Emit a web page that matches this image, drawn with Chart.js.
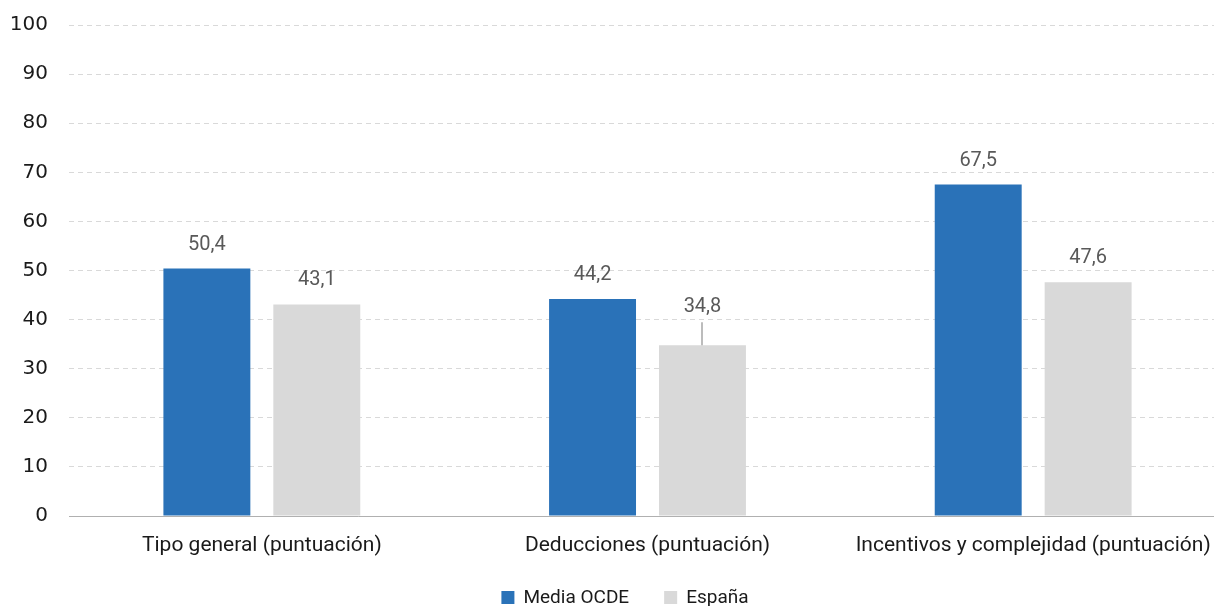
<!DOCTYPE html>
<html>
<head>
<meta charset="utf-8">
<script src="https://cdn.jsdelivr.net/npm/chart.js@4/dist/chart.umd.min.js"></script>
<style>
  html, body { margin: 0; padding: 0; background: #fff; overflow: hidden; }
  #frame { width: 1214px; height: 606px; overflow: hidden; position: relative; }
  #wrap { width: 1226px; height: 606px; position: relative; }
</style>
</head>
<body>
<div id="frame"><div id="wrap"><canvas id="c"></canvas></div></div>
<script>
const categories = ['Tipo general (puntuación)', 'Deducciones (puntuación)', 'Incentivos y complejidad (puntuación)'];
const mediaOCDE = [50.4, 44.2, 67.5];
const espana = [43.1, 34.8, 47.6];
const seriesNames = ['Media OCDE', 'España'];
const seriesColors = ['#2a72b8', '#d9d9d9'];

const fmt = v => v.toFixed(1).replace('.', ',');

// Value labels above each bar; the gray bar of the middle group gets a short leader line
const valueLabels = {
  id: 'valueLabels',
  afterDatasetsDraw(chart) {
    const ctx = chart.ctx;
    ctx.save();
    ctx.font = '20px Roboto';
    ctx.fillStyle = '#595959';
    ctx.textAlign = 'center';
    ctx.textBaseline = 'middle';
    chart.data.datasets.forEach((ds, di) => {
      const meta = chart.getDatasetMeta(di);
      meta.data.forEach((bar, i) => {
        const leader = di === 1 && i === 1;
        const y = leader ? bar.y - 38 : bar.y - 24;
        ctx.fillText(fmt(ds.data[i]), bar.x, y);
        if (leader) {
          ctx.strokeStyle = '#a6a6a6';
          ctx.lineWidth = 1.5;
          ctx.beginPath();
          ctx.moveTo(Math.round(bar.x), y + 15);
          ctx.lineTo(Math.round(bar.x), bar.y);
          ctx.stroke();
        }
      });
    });
    ctx.restore();
  }
};

// Legend row under the axis labels
const bottomLegend = {
  id: 'bottomLegend',
  afterDraw(chart) {
    const ctx = chart.ctx;
    ctx.save();
    ctx.font = '19px Roboto';
    ctx.textBaseline = 'middle';
    ctx.textAlign = 'left';
    const box = 13, gapText = 9, gapItem = 35;
    const widths = seriesNames.map(n => box + gapText + ctx.measureText(n).width);
    const total = widths.reduce((a, b) => a + b, 0) + gapItem * (seriesNames.length - 1);
    let x = chart.width / 2 + 12 - total / 2;
    const y = chart.height - 9;
    seriesNames.forEach((n, i) => {
      ctx.fillStyle = seriesColors[i];
      ctx.fillRect(x, Math.round(y - box / 2), box, box);
      ctx.fillStyle = '#1a1a1a';
      ctx.fillText(n, x + box + gapText, y + 1);
      x += widths[i] + gapItem;
    });
    ctx.restore();
  }
};

new Chart(document.getElementById('c'), {
  type: 'bar',
  data: {
    labels: categories,
    datasets: [
      { label: seriesNames[0], data: mediaOCDE, backgroundColor: seriesColors[0] },
      { label: seriesNames[1], data: espana, backgroundColor: seriesColors[1] }
    ]
  },
  options: {
    responsive: true,
    maintainAspectRatio: false,
    animation: false,
    layout: { padding: { top: 25, right: 0, left: 0, bottom: 40 } },
    datasets: { bar: { categoryPercentage: 0.570, barPercentage: 0.791 } },
    scales: {
      x: {
        afterFit(scale) { scale.height = 50; scale.paddingLeft = 0; scale.paddingRight = 0; },
        grid: { display: false, drawTicks: false },
        border: { color: '#b0b0b0', width: 1 },
        ticks: { color: '#1a1a1a', font: { family: 'Roboto', size: 21 }, padding: 17, maxRotation: 0 }
      },
      y: {
        min: 0, max: 100,
        afterFit(scale) { scale.width = 69; scale.paddingTop = 0; scale.paddingBottom = 0; },
        ticks: { stepSize: 10, color: '#1a1a1a', font: { family: 'DejaVu Sans', size: 20 }, padding: 21 },
        grid: { color: '#d9d9d9', drawTicks: false },
        border: { display: false, dash: [5, 4] }
      }
    },
    plugins: {
      legend: { display: false },
      tooltip: { enabled: false }
    }
  },
  plugins: [valueLabels, bottomLegend]
});
</script>
</body>
</html>
